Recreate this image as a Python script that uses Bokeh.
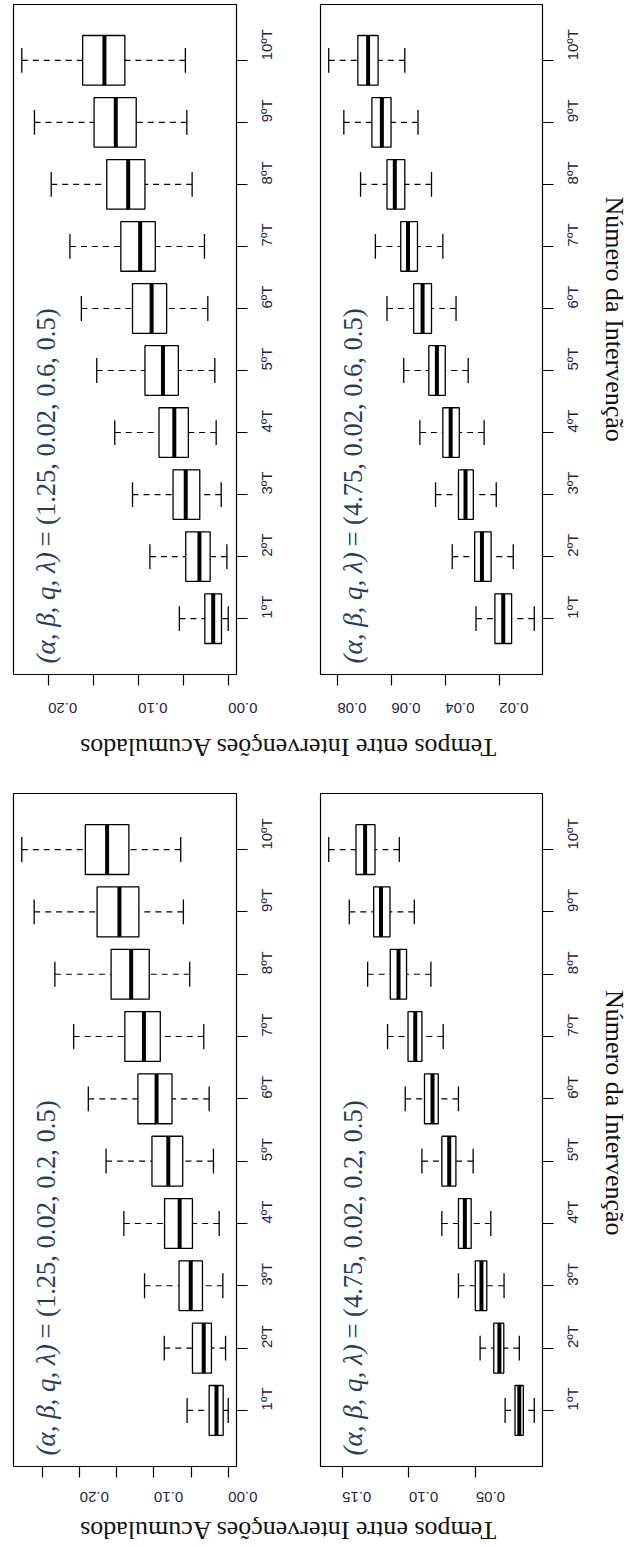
import math
from bokeh.plotting import figure
from bokeh.layouts import column, row
from bokeh.models import Range1d, FixedTicker, PrintfTickFormatter, Label
from bokeh.embed import file_html
from bokeh.resources import INLINE

# Intervention number (category axis)
positions = list(range(1, 11))
tick_labels = ["1ºT", "2ºT", "3ºT", "4ºT", "5ºT", "6ºT", "7ºT", "8ºT", "9ºT", "10ºT"]

# Five-number summaries of accumulated inter-intervention times
# (alpha, beta, q, lambda) = (1.25, 0.02, 0.6, 0.5)
a125_q06_low = [0.000, 0.0015, 0.0078, 0.0134, 0.0149, 0.0227, 0.0264, 0.0401, 0.0460, 0.0476]
a125_q06_q1 = [0.0075, 0.0201, 0.0316, 0.0443, 0.0554, 0.0684, 0.0810, 0.0925, 0.1022, 0.1148]
a125_q06_med = [0.0167, 0.0320, 0.0472, 0.0599, 0.0725, 0.0851, 0.0978, 0.1111, 0.1249, 0.1375]
a125_q06_q3 = [0.0260, 0.0472, 0.0613, 0.0769, 0.0925, 0.1063, 0.1193, 0.1349, 0.1490, 0.1617]
a125_q06_high = [0.0543, 0.0870, 0.1063, 0.1260, 0.1460, 0.1631, 0.1758, 0.1966, 0.2152, 0.2293]

# (alpha, beta, q, lambda) = (4.75, 0.02, 0.6, 0.5)
a475_q06_low = [0.0070, 0.0148, 0.0211, 0.0256, 0.0315, 0.0360, 0.0409, 0.0451, 0.0501, 0.0550]
a475_q06_q1 = [0.0154, 0.0230, 0.0296, 0.0348, 0.0400, 0.0451, 0.0503, 0.0550, 0.0601, 0.0649]
a475_q06_med = [0.0185, 0.0264, 0.0325, 0.0380, 0.0431, 0.0484, 0.0538, 0.0587, 0.0635, 0.0686]
a475_q06_q3 = [0.0216, 0.0291, 0.0351, 0.0409, 0.0461, 0.0517, 0.0565, 0.0616, 0.0672, 0.0724]
a475_q06_high = [0.0286, 0.0374, 0.0436, 0.0494, 0.0554, 0.0616, 0.0659, 0.0714, 0.0776, 0.0832]

# (alpha, beta, q, lambda) = (1.25, 0.02, 0.2, 0.5)
a125_q02_low = [0.000, 0.0036, 0.0073, 0.0122, 0.0199, 0.0257, 0.0330, 0.0519, 0.0604, 0.0640]
a125_q02_q1 = [0.0068, 0.0226, 0.0347, 0.0482, 0.0613, 0.0757, 0.0915, 0.1064, 0.1203, 0.1338]
a125_q02_med = [0.0158, 0.0330, 0.0505, 0.0654, 0.0807, 0.0965, 0.1135, 0.1307, 0.1465, 0.1631]
a125_q02_q3 = [0.0257, 0.0482, 0.0662, 0.0857, 0.1027, 0.1216, 0.1392, 0.1577, 0.1766, 0.1924]
a125_q02_high = [0.0554, 0.0861, 0.1127, 0.1405, 0.1645, 0.1884, 0.2081, 0.2334, 0.2613, 0.2780]

# (alpha, beta, q, lambda) = (4.75, 0.02, 0.2, 0.5)
a475_q02_low = [0.0063, 0.0175, 0.0289, 0.0388, 0.0520, 0.0630, 0.0744, 0.0836, 0.0960, 0.1072]
a475_q02_q1 = [0.0145, 0.0291, 0.0418, 0.0535, 0.0649, 0.0781, 0.0903, 0.1018, 0.1142, 0.1254]
a475_q02_med = [0.0175, 0.0324, 0.0458, 0.0582, 0.0699, 0.0824, 0.0953, 0.1078, 0.1209, 0.1328]
a475_q02_q3 = [0.0207, 0.0366, 0.0504, 0.0630, 0.0754, 0.0884, 0.1007, 0.1140, 0.1264, 0.1396]
a475_q02_high = [0.0281, 0.0468, 0.0630, 0.0754, 0.0903, 0.1028, 0.1160, 0.1309, 0.1446, 0.1600]

# Value-axis ticks and which of them carry a printed label
ticks_a125_q06 = [0.00, 0.05, 0.10, 0.15, 0.20]
ticks_a475_q06 = [0.02, 0.04, 0.06, 0.08]
ticks_a125_q02 = [0.00, 0.05, 0.10, 0.15, 0.20, 0.25]
ticks_a475_q02 = [0.05, 0.10, 0.15]
unlabeled_ticks = [0.05, 0.15, 0.25]

titles = {
    "a125_q06": "(1.25, 0.02, 0.6, 0.5)",
    "a475_q06": "(4.75, 0.02, 0.6, 0.5)",
    "a125_q02": "(1.25, 0.02, 0.2, 0.5)",
    "a475_q02": "(4.75, 0.02, 0.2, 0.5)",
}

y_title = "Tempos entre Intervenções Acumulados"
x_title = "Número da Intervenção"

TICK_FONT = "Liberation Sans"
TEXT_FONT = "Liberation Serif"
TICK_COLOR = "#1f2247"
TITLE_COLOR = "#243c62"


def box_panel(low, q1, med, q3, high, ticks, title, frame_w, frame_h,
              b_left, b_right, b_top, b_bottom, x_standoff, hide_some):
    lo = min(low)
    hi = max(high)
    pad = 0.04 * (hi - lo)
    p = figure(frame_width=frame_w, frame_height=frame_h,
               min_border_left=b_left, min_border_right=b_right,
               min_border_top=b_top, min_border_bottom=b_bottom,
               x_range=Range1d(hi + pad, lo - pad), y_range=Range1d(0.1, 10.9),
               y_axis_location="right", toolbar_location=None,
               output_backend="svg", background_fill_color="white",
               border_fill_color="white")
    p.grid.visible = False
    p.outline_line_color = "black"
    p.outline_line_width = 1.2

    # whiskers (dashed) from the ends toward the box
    p.segment(x0=low, y0=positions, x1=q1, y1=positions,
              line_color="black", line_width=1.1, line_dash="6 5")
    p.segment(x0=high, y0=positions, x1=q3, y1=positions,
              line_color="black", line_width=1.1, line_dash="6 5")
    # staples
    lo_staple = [v - 0.2 for v in positions]
    hi_staple = [v + 0.2 for v in positions]
    p.segment(x0=low, y0=lo_staple, x1=low, y1=hi_staple,
              line_color="black", line_width=1.3)
    p.segment(x0=high, y0=lo_staple, x1=high, y1=hi_staple,
              line_color="black", line_width=1.3)
    # boxes
    p.hbar(y=positions, left=q1, right=q3, height=0.8,
           fill_color="white", line_color="black", line_width=1.3)
    # medians
    lo_box = [v - 0.4 for v in positions]
    hi_box = [v + 0.4 for v in positions]
    p.segment(x0=med, y0=lo_box, x1=med, y1=hi_box,
              line_color="black", line_width=4, line_cap="butt")

    xa = p.xaxis[0]
    xa.ticker = FixedTicker(ticks=ticks, minor_ticks=[])
    xa.formatter = PrintfTickFormatter(format="%.2f")
    if hide_some:
        xa.major_label_overrides = {t: "" for t in unlabeled_ticks}
    xa.major_label_orientation = math.pi
    xa.major_tick_out = 11
    xa.major_tick_in = 0
    xa.major_tick_line_width = 1.2
    xa.axis_line_color = None
    xa.major_label_standoff = x_standoff
    xa.major_label_text_font = TICK_FONT
    xa.major_label_text_font_size = "15px"
    xa.major_label_text_color = TICK_COLOR

    ya = p.yaxis[0]
    ya.ticker = FixedTicker(ticks=positions, minor_ticks=[])
    ya.major_label_overrides = {k: lab for k, lab in zip(positions, tick_labels)}
    ya.major_label_orientation = math.pi / 2
    ya.major_tick_out = 11
    ya.major_tick_in = 0
    ya.major_tick_line_width = 1.2
    ya.axis_line_color = None
    ya.major_label_standoff = 19
    ya.major_label_text_font = TICK_FONT
    ya.major_label_text_font_size = "15px"
    ya.major_label_text_color = TICK_COLOR

    # parameter title, reading upward along the left side of the frame
    xr, yr = p.x_range, p.y_range

    def at(px_left, px_bottom):
        x = xr.start + (xr.end - xr.start) * px_left / frame_w
        y = yr.start + (yr.end - yr.start) * px_bottom / frame_h
        return x, y

    x0, y0 = at(32, 11)
    p.add_layout(Label(x=x0, y=y0, text="(α, β, q, λ)", angle=math.pi / 2,
                       text_font=TEXT_FONT, text_font_style="italic",
                       text_font_size="27px", text_color=TITLE_COLOR,
                       text_align="left", text_baseline="alphabetic"))
    x1, y1 = at(32, 128)
    p.add_layout(Label(x=x1, y=y1, text="=  " + title, angle=math.pi / 2,
                       text_font=TEXT_FONT, text_font_size="26.5px",
                       text_color=TITLE_COLOR,
                       text_align="left", text_baseline="alphabetic"))
    return p


def text_strip(w, h, text, x, y, angle):
    p = figure(width=w, height=h, x_range=Range1d(0, w), y_range=Range1d(0, h),
               x_axis_type=None, y_axis_type=None, min_border=0,
               toolbar_location=None, output_backend="svg")
    p.grid.visible = False
    p.outline_line_color = None
    p.add_layout(Label(x=x, y=y, text=text, angle=angle,
                       text_font=TEXT_FONT, text_font_size="26px",
                       text_color="#111111", text_align="center",
                       text_baseline="alphabetic"))
    return p


# first block: q = 0.6
p_a125_q06 = box_panel(a125_q06_low, a125_q06_q1, a125_q06_med, a125_q06_q3,
                       a125_q06_high, ticks_a125_q06, titles["a125_q06"],
                       223, 670, 13, 64, 4, 50, 22, True)
p_a475_q06 = box_panel(a475_q06_low, a475_q06_q1, a475_q06_med, a475_q06_q3,
                       a475_q06_high, ticks_a475_q06, titles["a475_q06"],
                       222, 670, 20, 48, 4, 50, 22, False)
num_top = text_strip(40, 724, x_title, 22, 384, -math.pi / 2)
tempos_top = text_strip(630, 68, y_title, 287, 45, math.pi)

# second block: q = 0.2
p_a125_q02 = box_panel(a125_q02_low, a125_q02_q1, a125_q02_med, a125_q02_q3,
                       a125_q02_high, ticks_a125_q02, titles["a125_q02"],
                       223, 673, 13, 64, 1, 49, 19, True)
p_a475_q02 = box_panel(a475_q02_low, a475_q02_q1, a475_q02_med, a475_q02_q3,
                       a475_q02_high, ticks_a475_q02, titles["a475_q02"],
                       222, 673, 20, 48, 1, 49, 19, False)
num_bottom = text_strip(40, 723, x_title, 22, 380, -math.pi / 2)
tempos_bottom = text_strip(630, 33, y_title, 287, 18, math.pi)

layout = column(
    row(p_a125_q06, p_a475_q06, num_top),
    tempos_top,
    row(p_a125_q02, p_a475_q02, num_bottom),
    tempos_bottom,
)

open("out.html", "w").write(file_html(layout, INLINE))
